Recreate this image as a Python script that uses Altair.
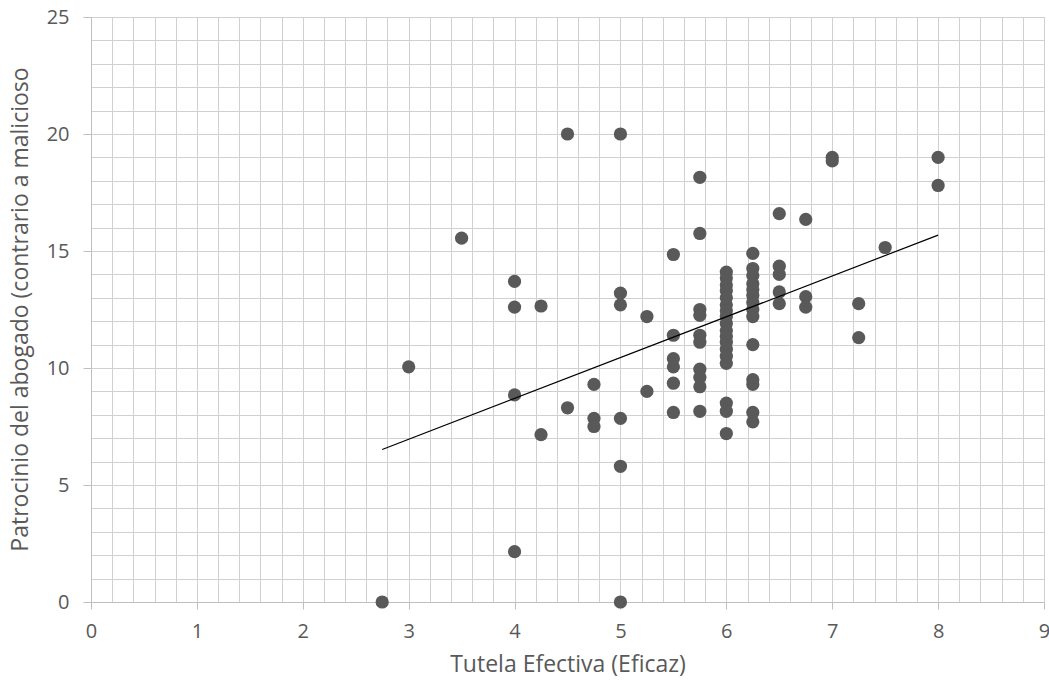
import altair as alt
import pandas as pd

# Data
x_vals = [2.75, 3, 3.5,
          4, 4, 4, 4,
          4.25, 4.25,
          4.5, 4.5,
          4.75, 4.75, 4.75,
          5, 5, 5, 5, 5, 5,
          5.25, 5.25,
          5.5, 5.5, 5.5, 5.5, 5.5, 5.5,
          5.75, 5.75, 5.75, 5.75, 5.75, 5.75, 5.75, 5.75, 5.75, 5.75,
          6, 6, 6, 6, 6, 6, 6, 6, 6, 6, 6, 6, 6, 6, 6, 6, 6, 6,
          6.25, 6.25, 6.25, 6.25, 6.25, 6.25, 6.25, 6.25, 6.25, 6.25, 6.25, 6.25, 6.25, 6.25,
          6.5, 6.5, 6.5, 6.5, 6.5,
          6.75, 6.75, 6.75,
          7, 7,
          7.25, 7.25,
          7.5,
          8, 8]
y_vals = [0, 10.05, 15.55,
          13.7, 12.6, 8.85, 2.15,
          12.65, 7.15,
          20, 8.3,
          9.3, 7.85, 7.5,
          20, 13.2, 12.7, 7.85, 5.8, 0,
          12.2, 9.0,
          14.85, 11.4, 10.4, 10.05, 9.35, 8.1,
          18.15, 15.75, 12.5, 12.25, 11.4, 11.1, 9.95, 9.6, 9.2, 8.15,
          14.1, 13.85, 13.55, 13.3, 13.0, 12.7, 12.45, 12.2, 11.9, 11.6, 11.35, 11.1, 10.8, 10.5, 10.2, 8.5, 8.15, 7.2,
          14.9, 14.25, 13.95, 13.6, 13.35, 13.1, 12.8, 12.5, 12.2, 11.0, 9.5, 9.3, 8.1, 7.7,
          16.6, 14.35, 14.0, 13.25, 12.75,
          16.35, 13.05, 12.6,
          19.0, 18.85,
          12.75, 11.3,
          15.15,
          19.0, 17.8]

x_title = "Tutela Efectiva (Eficaz)"
y_title = "Patrocinio del abogado (contrario a malicioso"

df = pd.DataFrame({"x": x_vals, "y": y_vals})

FONT = "Open Sans"
TEXT = "#595959"

x_ticks = [round(i * 0.2, 1) for i in range(46)]
y_ticks = list(range(26))

x_axis = alt.Axis(
    values=x_ticks,
    labelExpr="abs(datum.value - round(datum.value)) < 0.001 ? format(datum.value, 'd') : ''",
    labelOverlap=False,
    title=x_title,
    grid=True,
    gridColor="#d0d0d0",
    gridWidth=1,
    domainColor="#bfbfbf",
    domainWidth=1,
    tickColor="#bfbfbf",
    tickSize=7,
    tickOpacity=alt.ExprRef(expr="abs(datum.value - round(datum.value)) < 0.001 ? 1 : 0"),
    labelFont=FONT, labelFontSize=20, labelColor=TEXT, labelPadding=12,
    titleFont=FONT, titleFontSize=23, titleColor=TEXT, titleFontWeight="normal",
    titleY=62, titleBaseline="middle",
    labelFlush=False,
)
y_axis = alt.Axis(
    values=y_ticks,
    labelExpr="datum.value % 5 === 0 ? format(datum.value, 'd') : ''",
    labelOverlap=False,
    title=y_title,
    grid=True,
    gridColor="#d0d0d0",
    gridWidth=1,
    domainColor="#bfbfbf",
    domainWidth=1,
    tickColor="#bfbfbf",
    tickSize=8,
    tickOpacity=alt.ExprRef(expr="datum.value % 5 === 0 ? 1 : 0"),
    labelFont=FONT, labelFontSize=20, labelColor=TEXT, labelPadding=14,
    titleFont=FONT, titleFontSize=23, titleColor=TEXT, titleFontWeight="normal",
    titleX=-71, titleY=292, titleBaseline="middle", titleAngle=-90,
    labelFlush=False,
)

xs = alt.Scale(domain=[0, 9], nice=False, zero=False)
ys = alt.Scale(domain=[0, 25], nice=False, zero=False)

points = alt.Chart(df).mark_circle(size=175, color="#595959", opacity=1).encode(
    x=alt.X("x:Q", scale=xs, axis=x_axis),
    y=alt.Y("y:Q", scale=ys, axis=y_axis),
)

trend = alt.Chart(df).transform_regression("x", "y").mark_line(
    color="#000000", strokeWidth=1.2
).encode(
    x=alt.X("x:Q", scale=xs, axis=x_axis),
    y=alt.Y("y:Q", scale=ys, axis=y_axis),
)

chart = alt.layer(points, trend).properties(
    width=953,
    height=585,
    autosize=alt.AutoSizeParams(type="none"),
    padding={"left": 91, "top": 17, "right": 5, "bottom": 85},
).configure_view(stroke=None).configure(background="white")

chart.save("out.html", embed_options={"renderer": "svg", "actions": False})
